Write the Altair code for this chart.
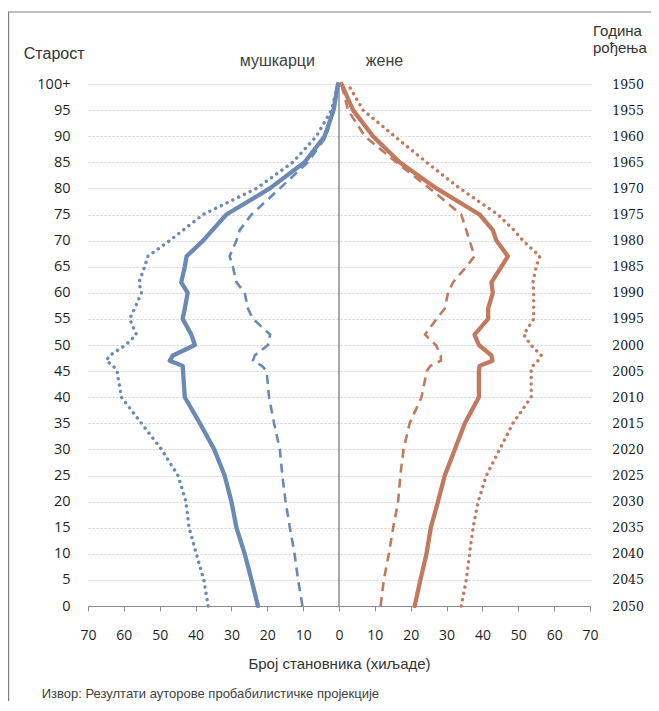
import altair as alt
import pandas as pd

# ---- data ----
ages = [0, 5, 10, 15, 20, 25, 30, 35, 40, 45, 46, 47, 48, 50, 52, 55, 57, 60,
        62, 65, 67, 70, 72, 75, 80, 85, 90, 95, 100]

male_solid = [22.6, 24.4, 26.3, 28.6, 30.0, 31.9, 34.8, 38.8, 43.0, 43.5, 43.6, 47.2, 46.3,
              40.2, 41.2, 43.6, 43.0, 42.2, 44.0, 43.0, 42.5, 37.9, 35.3, 31.4, 19.3, 9.6,
              4.0, 1.5, 0.3]
male_dotted = [36.5, 37.7, 39.8, 41.8, 42.7, 44.9, 49.5, 55.1, 60.7, 61.9, 63.0, 64.9, 63.9,
               59.5, 56.5, 58.4, 57.0, 55.1, 55.8, 54.2, 53.3, 47.2, 43.5, 37.9, 23.0, 12.9,
               6.3, 2.1, 0.3]
male_dashed = [10.2, 11.4, 12.4, 13.7, 14.9, 15.8, 16.5, 18.1, 19.5, 20.2, 21.5, 24.0, 23.5,
               19.8, 19.2, 24.0, 25.4, 26.3, 28.6, 29.6, 30.5, 28.6, 27.7, 24.4, 16.5, 8.7,
               3.5, 1.8, 0.3]
female_solid = [21.1, 22.7, 24.4, 25.6, 27.6, 29.5, 32.3, 35.1, 39.0, 39.0, 39.2, 42.8, 42.5,
                39.0, 37.8, 41.6, 41.6, 42.9, 42.5, 45.3, 47.1, 43.9, 42.9, 39.2, 27.2, 16.9,
                9.5, 3.9, 0.7]
female_dotted = [34.1, 35.5, 36.4, 37.4, 38.8, 41.1, 44.8, 48.5, 53.6, 53.6, 54.0, 55.5, 56.4,
                 53.5, 51.5, 54.3, 54.3, 54.3, 54.1, 55.0, 56.0, 51.3, 48.8, 44.3, 33.7, 24.4,
                 15.5, 6.7, 2.5]
female_dashed = [11.6, 12.5, 13.9, 15.1, 16.5, 17.1, 18.0, 19.7, 23.0, 24.5, 25.5, 28.4, 28.4,
                 27.0, 24.0, 27.2, 29.5, 30.4, 31.8, 35.5, 37.8, 36.4, 35.5, 34.1, 25.3, 16.0,
                 7.2, 2.5, 0.7]

x_ticks = [-70, -60, -50, -40, -30, -20, -10, 0, 10, 20, 30, 40, 50, 60, 70]
age_ticks = list(range(0, 101, 5))
sex_labels = ["мушкарци", "жене"]
sex_label_x = [-17.2, 12.7]

BLUE = "#6A8AB5"
ORANGE = "#C27A5E"

series = [
    ("m", "solid", male_solid), ("m", "dotted", male_dotted), ("m", "dashed", male_dashed),
    ("f", "solid", female_solid), ("f", "dotted", female_dotted), ("f", "dashed", female_dashed),
]
rows = []
for sex, var, vals in series:
    for a, v in zip(ages, vals):
        rows.append({"age": a, "value": -v if sex == "m" else v, "sex": sex,
                     "variant": var, "key": sex + var})
df = pd.DataFrame(rows)

W, H = 502, 522
SANS = "Liberation Sans"

x_axis = alt.Axis(values=x_ticks, labelExpr="abs(datum.value)", grid=False,
                  labelOverlap=False, labelFlush=False,
                  domainColor="#8c8c8c", tickColor="#8c8c8c", tickSize=5,
                  labelFont="Open Sans", labelFontSize=14, labelColor="#1f1f1f",
                  labelPadding=17, title="Број становника (хиљаде)",
                  titleFont=SANS, titleFontSize=15, titleFontWeight="normal",
                  titleColor="#333333", titleY=62, titleBaseline="alphabetic")
y_axis = alt.Axis(values=age_ticks,
                  labelExpr="datum.value == 100 ? '100+' : datum.value",
                  labelOverlap=False, labelFlush=False,
                  grid=True, gridColor="#c4c4c4", gridDash=[2, 2], gridWidth=0.8,
                  domain=False, ticks=False, labelPadding=18,
                  labelFont="Open Sans", labelFontSize=14.5, labelColor="#1f1f1f",
                  title="Старост", titleAngle=0, titleAlign="left",
                  titleBaseline="alphabetic", titleX=-64.7, titleY=-25.7,
                  titleFont=SANS, titleFontSize=16, titleFontWeight="normal",
                  titleColor="#333333")
x_scale = alt.Scale(domain=[-70, 70], nice=False, zero=False)
y_scale = alt.Scale(domain=[0, 100], nice=False)

color_scale = alt.Scale(domain=["m", "f"], range=[BLUE, ORANGE])

base = alt.Chart(df)

# frame around the figure (top and left edges are the visible ones)
one = pd.DataFrame({"k": [0]})
frame_top = alt.Chart(one).mark_rule(color="#7f7f7f", strokeWidth=1.2).encode(
    x=alt.value(-80), x2=alt.value(W + 100), y=alt.value(-72))
frame_left = alt.Chart(one).mark_rule(color="#7f7f7f", strokeWidth=1.2).encode(
    x=alt.value(-79.4), y=alt.value(-72), y2=alt.value(H + 150))

center = alt.Chart(pd.DataFrame({"value": [0], "age": [0], "age2": [100]})).mark_rule(
    color="#8c8c8c", strokeWidth=1.5).encode(
    x=alt.X("value:Q", scale=x_scale, axis=x_axis),
    y=alt.Y("age:Q", scale=y_scale, axis=y_axis), y2="age2:Q")


def line_layer(variant, **mark):
    return base.transform_filter(alt.datum.variant == variant).mark_line(**mark).encode(
        x=alt.X("value:Q", scale=x_scale, axis=x_axis),
        y=alt.Y("age:Q", scale=y_scale, axis=y_axis),
        color=alt.Color("sex:N", scale=color_scale, legend=None),
        detail="key:N", order="age:Q")


solid = line_layer("solid", strokeWidth=4.3, strokeCap="round", strokeJoin="round")
dashed = line_layer("dashed", strokeWidth=2.6, strokeDash=[9, 6])
dotted = line_layer("dotted", strokeWidth=3.4, strokeDash=[0.1, 6.3], strokeCap="round")

sex_text = alt.Chart(pd.DataFrame({"label": sex_labels, "value": sex_label_x})).mark_text(
    font=SANS, fontSize=16, color="#404040", baseline="alphabetic", align="center").encode(
    x=alt.X("value:Q", scale=x_scale, axis=x_axis), y=alt.value(-18), text="label:N")

source = alt.Chart(pd.DataFrame({"t": ["Извор:  Резултати ауторове пробабилистичке пројекције"]})).mark_text(
    font=SANS, fontSize=13, color="#404040", align="left", baseline="alphabetic").encode(
    x=alt.value(-46.3), y=alt.value(H + 92), text="t:N")

main = alt.layer(frame_top, frame_left, center, solid, dashed, dotted, sex_text, source)

right_axis = alt.Chart(pd.DataFrame({"age": [0, 100]})).mark_point(opacity=0).encode(
    y=alt.Y("age:Q", scale=y_scale,
            axis=alt.Axis(orient="right", values=age_ticks, labelExpr="2050 - datum.value",
                          labelOverlap=False, labelFlush=False,
                          grid=False, domain=False, ticks=False, labelPadding=21.7,
                          labelFont="DejaVu Serif", labelFontSize=12.5, labelColor="#1a1a1a",
                          labelAlign="left",
                          title=["Година", "рођења"], titleAngle=0, titleAlign="left",
                          titleBaseline="alphabetic", titleX=2.5, titleY=-49,
                          titleLineHeight=17, titleFont=SANS, titleFontSize=15,
                          titleFontWeight="normal", titleColor="#333333")))

chart = alt.layer(main, right_axis).resolve_scale(y="independent").properties(
    width=W, height=H,
    autosize=alt.AutoSizeParams(type="none"),
    padding={"left": 80, "top": 76, "right": 61, "bottom": 95},
    background="white",
).configure_view(stroke=None).configure_axis(labelOverlap=False)

chart.save("out.html", embed_options={"renderer": "svg", "actions": False})
